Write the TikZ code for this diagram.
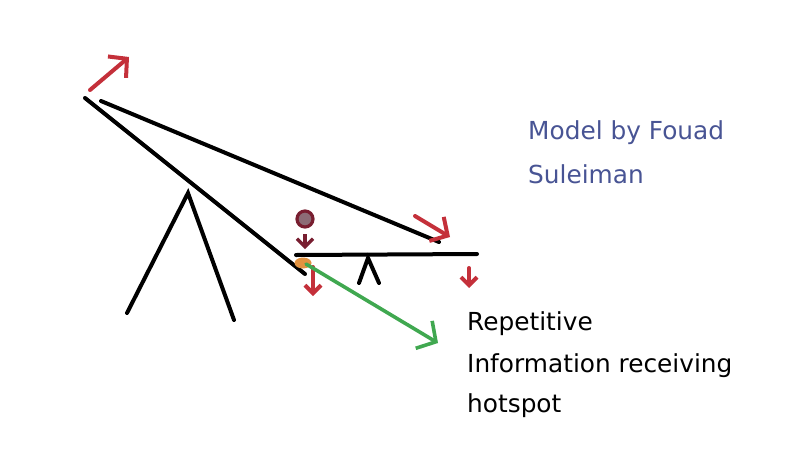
\documentclass[tikz,border=0pt]{standalone}
\usepackage{fontspec}
\setmainfont{DejaVu Sans}
\usetikzlibrary{arrows.meta}
\definecolor{sketchred}{RGB}{196,48,58}
\definecolor{darkred}{RGB}{120,30,48}
\definecolor{ballfill}{RGB}{140,108,118}
\definecolor{hotorange}{RGB}{226,146,64}
\definecolor{sketchgreen}{RGB}{64,168,80}
\definecolor{authorblue}{RGB}{72,84,148}
\begin{document}
\begin{tikzpicture}[x=1pt,y=-1pt,
    stroke/.style={line width=4pt, line cap=round},
    bigtip/.style={-{Straight Barb[length=13pt,width=28pt]}},
    smalltip/.style={-{Straight Barb[length=8pt,width=16pt]}},
    caption/.style={anchor=base west, inner sep=0pt, font=\fontsize{24.8}{30}\selectfont}]
    \useasboundingbox (0,0) rectangle (800,450);
    % lever arms
    \draw[stroke] (85,98) -- (305,274);
    \draw[stroke] (101,101) -- (439,242);
    % stands
    \draw[stroke] (127,313) -- (188,193) -- (234,320);
    \draw[stroke] (296,255) -- (477,254);
    \draw[stroke] (359,283) -- (368,258) -- (379,283);
    % ball and hotspot
    \draw[line width=3.2pt, darkred, fill=ballfill] (305,219) circle (8pt);
    \draw[line width=3.2pt, darkred, smalltip] (305,234) -- (305,249);
    \fill[hotorange] (303,263) ellipse (8.5pt and 5.5pt);
    % movement arrows
    \draw[stroke, sketchred, bigtip] (90,90) -- (129,57);
    \draw[stroke, sketchred, bigtip] (415,216) -- (450,237);
    \draw[stroke, sketchred, smalltip] (313,267) -- (313,296);
    \draw[stroke, sketchred, smalltip] (469,268) -- (469,288);
    \draw[line width=3.6pt, line cap=round, sketchgreen,
          -{Straight Barb[length=14pt,width=32pt]}] (306,264) -- (438,343);
    % texts
    \node[caption, authorblue] (model) at (528,139) {Model by Fouad};
    \node[caption, authorblue] (author) at (528,183) {Suleiman};
    \node[caption] (rep) at (467,330) {Repetitive};
    \node[caption] (info) at (467,372) {Information receiving};
    \node[caption] (hot) at (467,412) {hotspot};
\end{tikzpicture}
\end{document}
